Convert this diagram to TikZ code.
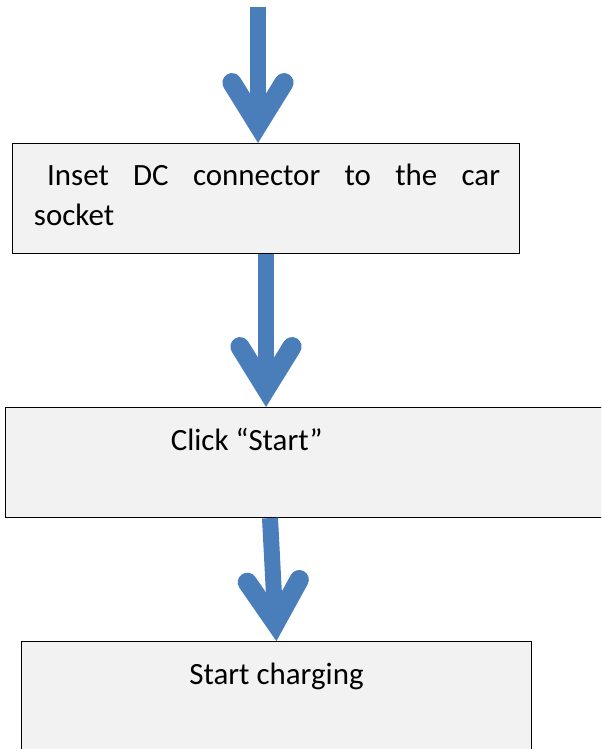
\documentclass[tikz,border=0pt]{standalone}
\usepackage{fontspec}
\setmainfont{Carlito}
\usepackage{xcolor}
\usetikzlibrary{arrows.meta,positioning}

\definecolor{flowblue}{RGB}{74,126,187}
\definecolor{boxgray}{RGB}{242,242,242}

\begin{document}
\begin{tikzpicture}[
    x=0.025cm, y=-0.025cm,
    stepbox/.style={rectangle, draw, line width=0.8pt, fill=boxgray,
                    minimum height=2.75cm, inner sep=0pt},
    txt/.style={font=\fontsize{22}{29}\selectfont, inner sep=0pt},
    flow/.style={draw=flowblue, line width=0.4cm,
                 -{Straight Barb[length=1.05cm, width=1.3cm, line width=0.08cm 1,
                   line cap=round, line join=miter]}},
  ]
  \clip (0,0) rectangle (601,749);

  % Boxes
  \node[stepbox, minimum width=12.68cm] (box1) at (266,198.5) {};
  \node[stepbox, minimum width=16cm] (box2) at (325.4,462.5) {};
  \node[stepbox, minimum width=12.73cm] (box3) at (276.4,696.7) {};

  % Texts
  \node[txt, text width=11.65cm, align=justify, anchor=base west] (t1)
    at (33.7,185) {\hspace*{0.33cm}Inset DC connector to the car\linebreak socket};
  \node[txt, anchor=base west] (t2) at (170.5,450.7) {Click “Start”};
  \node[txt, anchor=base] (t3) at (276.5,684) {Start charging};

  % Arrows
  \coordinate (src) at (258,7);
  \draw[flow] (src) -- (src |- box1.north);
  \draw[flow] (box1.south) -- (box1.south |- box2.north);
  \draw[flow] ([xshift=-0.16cm]box3.north |- box2.south) -- (box3.north);
\end{tikzpicture}
\end{document}
